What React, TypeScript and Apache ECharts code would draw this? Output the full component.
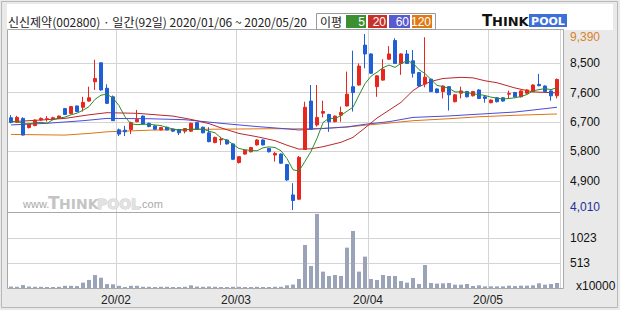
import React, { useEffect, useRef } from "react";
import * as echarts from "echarts";

const TITLE = "신신제약(002800) · 일간(92일) 2020/01/06 ~ 2020/05/20";
const LEGEND_LABEL = "이평";
const MA_PERIODS = ["5", "20", "60", "120"];

const MONTH_DAYS: [string, number[]][] = [
  ["01", [6, 7, 8, 9, 10, 13, 14, 15, 16, 17, 20, 21, 22, 23, 28, 29, 30, 31]],
  ["02", [3, 4, 5, 6, 7, 10, 11, 12, 13, 14, 17, 18, 19, 20, 21, 24, 25, 26, 27, 28]],
  ["03", [2, 3, 4, 5, 6, 9, 10, 11, 12, 13, 16, 17, 18, 19, 20, 23, 24, 25, 26, 27, 30, 31]],
  ["04", [1, 2, 3, 6, 7, 8, 9, 10, 13, 14, 16, 17, 20, 21, 22, 23, 24, 27, 28, 29]],
  ["05", [4, 6, 7, 8, 11, 12, 13, 14, 15, 18, 19, 20]],
];

// [open, close, low, high]
const CANDLES: [number, number, number, number][] = [
  [6830, 6690, 6660, 6910], [6690, 6840, 6670, 6890], [6810, 6300, 6290, 6840], [6530, 6640, 6500, 6660],
  [6590, 6760, 6570, 6780], [6760, 6810, 6740, 6840], [6780, 6800, 6710, 6880], [6780, 6830, 6760, 6860],
  [6810, 6880, 6790, 6900], [7110, 6930, 6920, 7130], [6960, 7170, 6940, 7190], [7190, 7020, 7000, 7200],
  [7150, 7300, 7020, 7470], [7340, 7440, 7320, 7780], [7930, 8030, 7680, 8600], [8510, 7680, 7660, 8520],
  [7730, 7270, 7250, 7850], [7470, 6740, 6730, 7510], [6460, 6330, 6270, 6500], [6450, 6400, 6270, 6580],
  [6470, 6680, 6330, 6710], [6710, 6780, 6690, 7070], [6880, 6640, 6620, 6900], [6660, 6560, 6540, 6680],
  [6580, 6480, 6460, 6600], [6460, 6530, 6440, 6550], [6540, 6460, 6440, 6560], [6480, 6420, 6400, 6490],
  [6470, 6370, 6300, 6490], [6420, 6500, 6350, 6510], [6420, 6660, 6400, 6680], [6680, 6480, 6460, 6700],
  [6540, 6370, 6350, 6560], [6370, 6100, 6080, 6540], [6070, 6230, 6050, 6250], [6150, 6170, 6000, 6250],
  [6150, 6030, 6010, 6170], [6030, 5560, 5540, 6050], [5460, 5640, 5430, 5660], [5720, 5840, 5700, 5860],
  [5790, 5920, 5770, 5940], [6000, 6150, 5980, 6170], [6150, 6000, 5980, 6170], [5890, 5790, 5770, 5910],
  [5690, 5740, 5490, 5790], [5720, 5440, 5420, 5740], [5400, 4930, 4900, 5420], [4470, 4300, 4010, 4830],
  [4340, 5620, 4320, 5660], [5860, 7150, 5850, 7320], [7340, 6480, 6460, 7830], [6610, 6840, 6560, 7830],
  [6970, 7020, 6840, 7350], [6930, 6710, 6400, 6950], [6710, 6880, 6690, 6900], [6910, 6990, 6710, 7170],
  [7190, 7550, 7170, 8240], [7780, 7600, 7020, 8880], [7830, 8410, 7810, 8490], [9050, 8780, 8340, 9390],
  [8780, 8190, 8170, 8800], [7780, 8110, 7470, 8130], [7980, 8310, 7960, 8620], [8620, 8780, 8600, 9020],
  [9190, 8490, 8470, 9260], [8490, 8780, 8140, 8800], [8780, 8490, 8470, 8900], [8570, 8190, 8060, 8900],
  [8210, 7800, 7780, 8230], [7860, 8070, 7760, 9290], [8010, 7630, 7610, 8030], [7710, 7600, 7580, 7730],
  [7630, 7800, 7420, 7820], [7780, 7530, 7050, 7800], [7320, 7530, 7300, 7550], [7580, 7650, 7420, 7780],
  [7630, 7470, 7450, 7650], [7500, 7630, 7480, 7650], [7680, 7420, 7400, 7700], [7470, 7420, 7290, 7520],
  [7290, 7370, 7270, 7390], [7440, 7320, 7300, 7460], [7440, 7340, 7320, 7460], [7550, 7570, 7420, 7660],
  [7600, 7470, 7450, 7620], [7470, 7650, 7450, 7670], [7580, 7680, 7560, 7700], [7630, 7830, 7610, 7850],
  [7850, 7810, 7790, 8170], [7800, 7630, 7610, 7820], [7650, 7500, 7350, 7670], [7500, 8000, 7420, 8030],
];

// volume, unit x10000
const VOLUME = [
  30, 25, 60, 30, 25, 25, 20, 20, 25, 45,
  45, 40, 110, 165, 265, 210, 80, 75, 45, 20,
  45, 45, 25, 25, 20, 25, 25, 20, 20, 25,
  55, 30, 25, 30, 25, 20, 20, 25, 25, 20,
  20, 25, 20, 20, 25, 25, 55, 70, 184, 881,
  451, 1516, 335, 246, 266, 246, 826, 1168, 335, 642,
  184, 164, 266, 246, 246, 143, 109, 205, 82, 471,
  102, 89, 96, 102, 68, 68, 82, 41, 55, 34,
  34, 34, 34, 48, 40, 48, 48, 55, 96, 68,
  82, 102,
];

const MA5 = [
  6700, 6720, 6650, 6640, 6680, 6690, 6660, 6770, 6820, 6850,
  6920, 6970, 7060, 7170, 7390, 7520, 7550, 7430, 7200, 6860,
  6640, 6620, 6630, 6630, 6610, 6590, 6530, 6490, 6450, 6460,
  6480, 6480, 6480, 6420, 6370, 6210, 6140, 6020, 5890, 5850,
  5830, 5820, 5910, 5940, 5920, 5820, 5580, 5240, 5200, 5500,
  5800, 6200, 6680, 6820, 6800, 6900, 7030, 7150, 7520, 7870,
  8100, 8220, 8360, 8440, 8370, 8490, 8570, 8500, 8300, 8180,
  8000, 7820, 7780, 7730, 7620, 7620, 7600, 7560, 7540, 7510,
  7460, 7430, 7400, 7420, 7440, 7480, 7540, 7650, 7690, 7720,
  7690, 7750,
];

// [index, value] readings of the slower averages
const MA20: [number, number][] = [
  [0, 6710], [5, 6760], [9, 6810], [13, 6920], [16, 6985], [21, 6965], [27, 6880], [30, 6780],
  [33, 6650], [35, 6520], [38, 6350], [41, 6250], [44, 6130], [46, 5990], [48, 5870], [50, 5880],
  [52, 5945], [55, 6080], [57, 6230], [59, 6520], [61, 6820], [63, 7060], [65, 7300], [67, 7660],
  [68, 7780], [70, 7940], [72, 8030], [75, 8065], [77, 8050], [79, 7960], [81, 7900], [84, 7740],
  [87, 7620], [91, 7590],
];
const MA60: [number, number][] = [
  [0, 6610], [6, 6660], [12, 6740], [16, 6810], [23, 6800], [29, 6770], [35, 6660], [41, 6560],
  [46, 6490], [48, 6455], [52, 6500], [56, 6550], [59, 6630], [63, 6710], [67, 6840], [73, 6885],
  [78, 6940], [84, 7005], [87, 7066], [91, 7150],
];
const MA120: [number, number][] = [
  [0, 6320], [9, 6300], [13, 6350], [16, 6400], [23, 6450], [31, 6475], [44, 6495], [47, 6490],
  [52, 6505], [56, 6545], [59, 6600], [62, 6650], [67, 6740], [73, 6800], [78, 6860], [84, 6905],
  [91, 6945],
];

const PRICE_LABELS = [4010, 4900, 5800, 6700, 7600, 8500, 9390];
const PRICE_GRID = [4900, 5800, 6700, 7600, 8500];
const VOL_LABELS = [0, 513, 1023];
const VOL_GRID = [513, 1023];

const FONT = '"Liberation Sans", Arial, sans-serif';
const KFONT = '"Noto Sans CJK KR", sans-serif';
const COLORS = { ma5: "#2f8a2a", ma20: "#b8282a", ma60: "#4b4bd6", ma120: "#e07412" };
const LEGEND_COLORS = ["#3c9032", "#c8302a", "#5a5ad0", "#e07a18"];

const DATES: string[] = MONTH_DAYS.flatMap(([m, days]) =>
  days.map((d) => `2020/${m}/${String(d).padStart(2, "0")}`)
);
const MONTH_START = new Set(
  DATES.map((d, i) => (i > 0 && d.slice(5, 7) !== DATES[i - 1].slice(5, 7) ? i : -1)).filter((i) => i >= 0)
);

function sparse(pairs: [number, number][]): (number | null)[] {
  const arr: (number | null)[] = DATES.map(() => null);
  pairs.forEach(([i, v]) => (arr[i] = v));
  return arr;
}
const comma = (v: number) => String(v).replace(/\B(?=(\d{3})+(?!\d))/g, ",");

export default function App() {
  const ref = useRef<HTMLDivElement>(null);
  useEffect(() => {
    if (!ref.current) return;
    const chart = echarts.init(ref.current, undefined, { renderer: "svg" });
    const isMonth = (i: number) => MONTH_START.has(i);
    const lineS = (name: string, data: any[], color: string) => ({
      name,
      type: "line",
      xAxisIndex: 0,
      yAxisIndex: 0,
      data,
      symbol: "none",
      connectNulls: true,
      lineStyle: { width: 1, color },
      silent: true,
      z: 2,
    });
    const legendX = [346, 368, 389, 412];
    const legendW = [20, 19, 21, 20];
    const graphics: any[] = [
      { type: "rect", z: -10, shape: { x: 7, y: 4, width: 606, height: 26 }, style: { fill: "#ffffff" } },
      { type: "rect", z: -10, shape: { x: 7.5, y: 29.5, width: 556, height: 259 }, style: { fill: "#ffffff", stroke: "#a8a8a8", lineWidth: 1 } },
      { type: "rect", z: -11, shape: { x: 1.5, y: 1.5, width: 616, height: 306 }, style: { fill: "none", stroke: "#b8b8b8", lineWidth: 1 } },
      { type: "text", z: 10, x: 8, y: 21, style: { text: TITLE, fontSize: 12, fontFamily: KFONT, fill: "#222", verticalAlign: "middle" } },
      { type: "rect", z: 10, shape: { x: 316.5, y: 13.5, width: 119, height: 16 }, style: { fill: "#fff", stroke: "#999", lineWidth: 1 } },
      { type: "text", z: 11, x: 320, y: 21.5, style: { text: LEGEND_LABEL, fontSize: 12, fontFamily: KFONT, fill: "#222", verticalAlign: "middle" } },
      ...MA_PERIODS.flatMap((p, k) => [
        { type: "rect", z: 11, shape: { x: legendX[k], y: 15, width: legendW[k], height: 13 }, style: { fill: LEGEND_COLORS[k] } },
        { type: "text", z: 12, x: legendX[k] + legendW[k] - 1, y: 21.5, style: { text: p, fontSize: 12, fontFamily: FONT, fill: "#fff", align: "right", verticalAlign: "middle" } },
      ]),
      // logo
      { type: "text", z: 10, x: 482, y: 28, style: { text: "T", fontSize: 15, fontWeight: "bold", fontFamily: '"DejaVu Sans"', fill: "#111", verticalAlign: "bottom" } },
      { type: "text", z: 10, x: 492, y: 28, style: { text: "HINK", fontSize: 13, fontWeight: "bold", fontFamily: '"DejaVu Sans"', fill: "#111", verticalAlign: "bottom" } },
      { type: "rect", z: 10, shape: { x: 529, y: 14, width: 38, height: 13 }, style: { fill: "#3d6fd9" } },
      { type: "text", z: 11, x: 548, y: 21, style: { text: "POOL", fontSize: 11, fontWeight: "bold", fontFamily: '"DejaVu Sans"', fill: "#fff", align: "center", verticalAlign: "middle" } },
      // watermark
      { type: "text", z: 1, x: 23, y: 209, style: { text: "www.", fontSize: 11, fontFamily: FONT, fill: "#a8a8a8", verticalAlign: "bottom" } },
      { type: "text", z: 1, x: 48, y: 211, style: { text: "T", fontSize: 17, fontWeight: "bold", fontFamily: '"DejaVu Sans"', fill: "#c4c4c4", verticalAlign: "bottom" } },
      { type: "text", z: 1, x: 59, y: 211, style: { text: "HINK", fontSize: 14, fontWeight: "bold", fontFamily: '"DejaVu Sans"', fill: "#c4c4c4", verticalAlign: "bottom" } },
      { type: "text", z: 1, x: 97, y: 211, style: { text: "POOL", fontSize: 14, fontWeight: "bold", fontFamily: '"DejaVu Sans"', fill: "#e2e2e2", stroke: "#c8c8c8", lineWidth: 0.8, verticalAlign: "bottom" } },
      { type: "text", z: 1, x: 139, y: 209, style: { text: ".com", fontSize: 11, fontFamily: FONT, fill: "#a8a8a8", verticalAlign: "bottom" } },
    ];

    chart.setOption({
      animation: false,
      backgroundColor: "#e9e9e9",
      graphic: { elements: graphics },
      grid: [
        { left: 8, top: 30, width: 552, height: 182 },
        { left: 8, top: 213, width: 552, height: 75 },
      ],
      xAxis: [
        {
          type: "category",
          gridIndex: 0,
          data: DATES,
          boundaryGap: true,
          axisLine: { show: true, onZero: false, lineStyle: { color: "#a8a8a8" } },
          axisTick: { show: false },
          axisLabel: { show: false },
          splitLine: { show: true, interval: (i: number) => isMonth(i), lineStyle: { color: "#d4d4d4" } },
        },
        {
          type: "category",
          gridIndex: 1,
          data: DATES,
          boundaryGap: true,
          axisLine: { show: false },
          axisTick: { show: false },
          axisLabel: {
            show: true,
            interval: (i: number) => isMonth(i),
            formatter: (v: string) => v.slice(2, 7),
            margin: 6,
            fontSize: 12,
            fontFamily: FONT,
            color: "#222",
            padding: [0, 6, 0, 0],
          },
          splitLine: { show: true, interval: (i: number) => isMonth(i), lineStyle: { color: "#d4d4d4" } },
        },
      ],
      yAxis: [
        {
          type: "value",
          gridIndex: 0,
          position: "right",
          min: 3949,
          max: 9512,
          axisLine: { show: false },
          axisTick: { show: false, customValues: PRICE_GRID },
          axisLabel: {
            customValues: PRICE_LABELS,
            margin: 10,
            fontSize: 12,
            fontFamily: FONT,
            color: "#111",
            formatter: (v: number) => {
              const s = comma(v);
              if (v === PRICE_LABELS[PRICE_LABELS.length - 1]) return `{top|${s}}`;
              if (v === PRICE_LABELS[0]) return `{bot|${s}}`;
              return s;
            },
            rich: {
              top: { color: "#d9822b", fontSize: 12, fontFamily: FONT, padding: [6, 0, 0, 0] },
              bot: { color: "#1f2f99", fontSize: 12, fontFamily: FONT, padding: [0, 0, 6, 0] },
            },
          },
          splitLine: { show: true, lineStyle: { color: "#d4d4d4" } },
        },
        {
          type: "value",
          gridIndex: 1,
          position: "right",
          min: 0,
          max: 1535,
          axisLine: { show: false },
          axisTick: { show: false, customValues: VOL_GRID },
          axisLabel: {
            customValues: VOL_LABELS,
            margin: 10,
            fontSize: 12,
            fontFamily: FONT,
            color: "#111",
            formatter: (v: number) => (v === 0 ? "{unit|x10000}" : String(v)),
            rich: { unit: { fontSize: 12, fontFamily: FONT, color: "#111", padding: [0, 0, 4, 6] } },
          },
          splitLine: { show: true, lineStyle: { color: "#d4d4d4" } },
        },
      ],
      series: [
        lineS("MA120", sparse(MA120), COLORS.ma120),
        lineS("MA60", sparse(MA60), COLORS.ma60),
        lineS("MA20", sparse(MA20), COLORS.ma20),
        {
          name: "price",
          type: "candlestick",
          xAxisIndex: 0,
          yAxisIndex: 0,
          data: CANDLES,
          barWidth: 4,
          z: 3,
          itemStyle: { color: "#e8261c", color0: "#1e5ed6", borderColor: "#e8261c", borderColor0: "#1e5ed6", borderWidth: 1 },
        },
        { ...lineS("MA5", MA5, COLORS.ma5), z: 4 },
        {
          name: "volume",
          type: "bar",
          xAxisIndex: 1,
          yAxisIndex: 1,
          data: VOLUME,
          barWidth: 4,
          itemStyle: { color: "#9ba3b9" },
          silent: true,
        },
      ],
    });
    return () => chart.dispose();
  }, []);
  return <div ref={ref} style={{ position: "fixed", left: 0, top: 0, width: 620, height: 310 }} />;
}
